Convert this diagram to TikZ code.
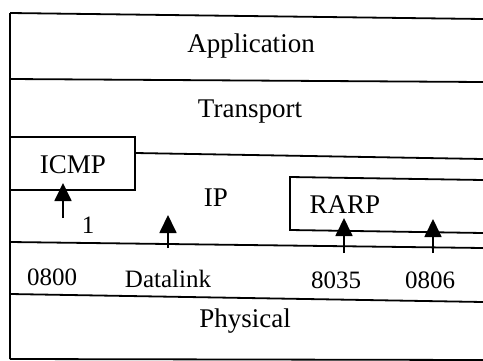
\documentclass[tikz,border=0pt]{standalone}
\usepackage{fontspec}
\setmainfont{Liberation Serif}
\usetikzlibrary{arrows.meta}
\tikzset{
  ln/.style={line width=0.9pt},
  arw/.style={line width=0.9pt,-{Triangle[length=9pt,width=8.5pt]}},
  big/.style={anchor=base,inner sep=0pt,font=\fontsize{13.5}{16}\selectfont},
  small/.style={anchor=base,inner sep=0pt,font=\fontsize{12.5}{15}\selectfont}
}
\begin{document}
\begin{tikzpicture}[x=0.5pt,y=-0.5pt]
\useasboundingbox (0,0) rectangle (483,360);
% frame and layer lines
\draw[ln] (10,13) -- (483,19);
\draw[ln] (10,13) -- (10,359);
\draw[ln] (10,79) -- (483,82);
\draw[ln] (135,153) -- (483,159);
\draw[ln] (10,137) -- (135,137) -- (135,190) -- (10,190);
\draw[ln] (483,180) -- (290,177) -- (290,230) -- (483,233);
\draw[ln] (10,242) -- (483,248);
\draw[ln] (10,294) -- (483,302);
\draw[ln] (10,359) -- (483,360);
% labels
\node[big] (app) at (251,52) {Application};
\node[big] (tra) at (250,117) {Transport};
\node[big] (icmp) at (73,173) {ICMP};
\node[big] (ip) at (216,206) {IP};
\node[big] (rarp) at (345,213) {RARP};
\node[small] (one) at (88,233) {1};
\node[small] (l0800) at (52,285) {0800};
\node[small] (ldl) at (168,287) {Datalink};
\node[small] (l8035) at (336,288) {8035};
\node[small] (l0806) at (430,288) {0806};
\node[big] (phy) at (245,327) {Physical};
% arrows
\coordinate (a1s) at (63,218); \coordinate (a1e) at (63,183);
\coordinate (a2s) at (168,248); \coordinate (a2e) at (168,215);
\coordinate (a3s) at (344,253); \coordinate (a3e) at (344,218);
\coordinate (a4s) at (433,253); \coordinate (a4e) at (433,219);
\draw[arw] (a1s) -- (a1e);
\draw[arw] (a2s) -- (a2e);
\draw[arw] (a3s) -- (a3e);
\draw[arw] (a4s) -- (a4e);
\end{tikzpicture}
\end{document}
